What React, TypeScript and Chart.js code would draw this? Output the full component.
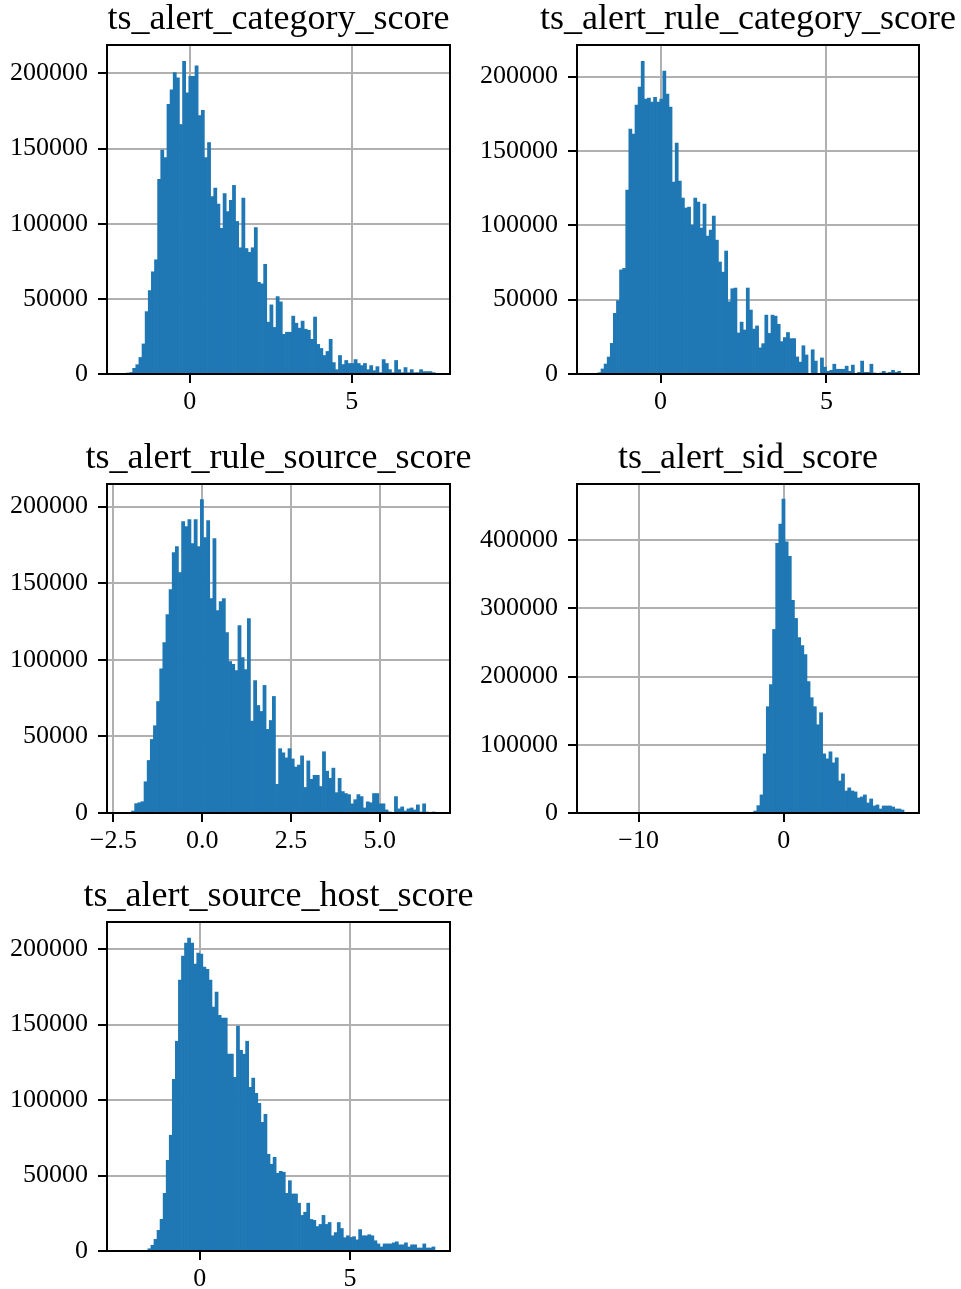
import React, { useEffect, useRef } from "react";
import { Chart, registerables } from "chart.js";

Chart.register(...registerables);

// ---------------- DATA ----------------
const titles = [
  "ts_alert_category_score",
  "ts_alert_rule_category_score",
  "ts_alert_rule_source_score",
  "ts_alert_sid_score",
  "ts_alert_source_host_score",
];

// panel 1: ts_alert_category_score
const categoryCounts = [
  500, 1000, 3800, 6200, 11000, 20000, 41500, 55500, 68000, 76000,
  129500, 149000, 144000, 179500, 189000, 200600, 197000, 166000, 208000, 187000,
  198000, 198000, 205000, 172000, 175500, 144000, 154000, 118000, 123700, 113000,
  97000, 120000, 108000, 115500, 125500, 101500, 84000, 117000, 83500, 81000,
  84000, 97500, 61000, 60000, 73000, 34500, 46000, 31000, 51500, 48000,
  26400, 27800, 27800, 38500, 33800, 30500, 35200, 29800, 29100, 23100,
  37900, 19700, 17000, 12300, 15000, 23100, 7600, 2900, 12300, 6300,
  9000, 7000, 7000, 9600, 7000, 5600, 7000, 2900, 5600, 2200,
  4900, 900, 9600, 7000, 2900, 900, 9000, 2900, 900, 4300,
  900, 2900, 900, 900, 2900, 1600, 1600, 1600, 900,
];
const categoryBinRange = [-1.96, 7.58];
const categoryAxisRange = [-2.56, 8.04];
const categoryXTicks = [0, 5];
const categoryXLabels = ["0", "5"];
const categoryYMax = 218900;

// panel 2: ts_alert_rule_category_score
const ruleCategoryCounts = [
  900, 3400, 6700, 11400, 20600, 40800, 49300, 70000, 71000, 123600,
  164600, 161300, 180800, 192900, 210300, 184800, 185500, 182800, 186100, 182800,
  184800, 203600, 188200, 179400, 129000, 155200, 129700, 118300, 111600, 112200,
  100100, 118300, 115600, 98100, 114200, 92700, 96800, 106200, 90000, 75300,
  68500, 82700, 48600, 57300, 57800, 27600, 34900, 29600, 57800, 43000,
  30200, 32300, 17600, 20400, 39600, 27300, 39600, 38900, 33400, 21800,
  24500, 27900, 23800, 23800, 11500, 8000, 19000, 12800, 0, 16300,
  8700, 0, 10800, 4600, 1800, 2500, 6600, 3200, 3200, 3200,
  5300, 1800, 6000, 0, 1100, 8700, 1100, 1100, 6600, 500,
  0, 500, 1800, 500, 1100, 2500, 1100, 1800,
];
const ruleCategoryBinRange = [-1.89, 7.24];
const ruleCategoryAxisRange = [-2.52, 7.79];
const ruleCategoryXTicks = [0, 5];
const ruleCategoryXLabels = ["0", "5"];
const ruleCategoryYMax = 221200;

// panel 3: ts_alert_rule_source_score
const ruleSourceCounts = [
  1300, 6100, 6700, 7400, 20400, 34300, 48000, 57000, 72800, 94100,
  111300, 129600, 145900, 170000, 173900, 157000, 190200, 187000, 191500, 175900,
  191500, 173900, 204600, 179800, 190900, 140000, 179100, 132200, 138000, 140000,
  117800, 98900, 97000, 93000, 122400, 101500, 93700, 127000, 60000, 86500,
  70200, 66300, 83300, 54600, 60400, 76100, 18700, 42000, 39300, 36000,
  42000, 35300, 30000, 31300, 37300, 16700, 34000, 22000, 24600, 24600,
  17300, 40000, 27300, 22600, 29300, 13300, 22600, 14000, 12700, 12000,
  6000, 8700, 12000, 10700, 3300, 7300, 6700, 12700, 12700, 6000,
  6000, 2000, 700, 0, 10700, 2700, 4000, 1300, 2700, 3300,
  2000, 5300, 700, 6000, 300, 0, 700,
];
const ruleSourceBinRange = [-1.99, 6.56];
const ruleSourceAxisRange = [-2.68, 6.98];
const ruleSourceXTicks = [-2.5, 0, 2.5, 5];
const ruleSourceXLabels = ["\u22122.5", "0.0", "2.5", "5.0"];
const ruleSourceYMax = 214800;

// panel 4: ts_alert_sid_score
const sidCounts = [
  2900, 10800, 26500, 86700, 155800, 188200, 269000, 395400, 423400, 460100,
  397400, 376300, 311600, 285200, 257200, 245500, 232300, 192600, 169000, 155800,
  129400, 147000, 86700, 79400, 89700, 73500, 80900, 47000, 57300, 32300,
  36800, 32300, 30900, 22000, 23500, 26500, 14700, 20600, 10300, 11800,
  5900, 10300, 10300, 10300, 8800, 5900, 5900, 4400,
];
const sidBinRange = [-2.07, 8.28];
const sidAxisRange = [-14.24, 9.31];
const sidXTicks = [-10, 0];
const sidXLabels = ["\u221210", "0"];
const sidYMax = 482200;

// panel 5: ts_alert_source_host_score
const sourceHostCounts = [
  1500, 3800, 7700, 13700, 21000, 38200, 60100, 76700, 113800, 139000,
  179500, 195400, 204000, 207300, 204000, 190100, 197400, 196700, 188100, 186700,
  179500, 161600, 171500, 156200, 154300, 154300, 130400, 130400, 115100, 149000,
  133000, 130400, 139000, 108500, 114500, 104500, 97900, 85300, 90600, 64100,
  57500, 62100, 51500, 52800, 52200, 38200, 46600, 37800, 37800, 31700,
  23600, 25700, 31700, 20900, 20300, 16200, 17600, 23600, 17600, 18900,
  10100, 12200, 18900, 14900, 8800, 10100, 9000, 9500, 7400, 14200,
  10100, 10100, 10800, 10100, 6800, 4700, 2700, 4700, 4700, 4700,
  5400, 6100, 4100, 4100, 5400, 2700, 4100, 4100, 2000, 2000,
  4700, 2000, 2000, 2700,
];
const sourceHostBinRange = [-1.73, 7.83];
const sourceHostAxisRange = [-3.09, 8.33];
const sourceHostXTicks = [0, 5];
const sourceHostXLabels = ["0", "5"];
const sourceHostYMax = 218000;

const yTicks200k = [0, 50000, 100000, 150000, 200000];
const yLabels200k = ["0", "50000", "100000", "150000", "200000"];
const yTicks400k = [0, 100000, 200000, 300000, 400000];
const yLabels400k = ["0", "100000", "200000", "300000", "400000"];

// ---------------- LAYOUT ----------------
const FONT = "'Liberation Serif', 'Times New Roman', serif";
const BAR_COLOR = "#1f77b4";
const GRID_COLOR = "#b0b0b0";
const Y_AXIS_W = 100;
const TITLE_H = 45;
const TITLE_BASELINE_GAP = 16.5;
const X_AXIS_H = 50;
const PLOT_H = 329;
const COLS = [
  { left: 107, width: 343, padR: 50 },
  { left: 577, width: 342, padR: 42 },
];
const ROW_TOPS = [45, 484, 922];

type PanelCfg = {
  title: string;
  counts: number[];
  binRange: number[];
  axisRange: number[];
  xTicks: number[];
  xLabels: string[];
  yMax: number;
  yTicks: number[];
  yLabels: string[];
  col: number;
  row: number;
};

const panels: PanelCfg[] = [
  { title: titles[0], counts: categoryCounts, binRange: categoryBinRange, axisRange: categoryAxisRange, xTicks: categoryXTicks, xLabels: categoryXLabels, yMax: categoryYMax, yTicks: yTicks200k, yLabels: yLabels200k, col: 0, row: 0 },
  { title: titles[1], counts: ruleCategoryCounts, binRange: ruleCategoryBinRange, axisRange: ruleCategoryAxisRange, xTicks: ruleCategoryXTicks, xLabels: ruleCategoryXLabels, yMax: ruleCategoryYMax, yTicks: yTicks200k, yLabels: yLabels200k, col: 1, row: 0 },
  { title: titles[2], counts: ruleSourceCounts, binRange: ruleSourceBinRange, axisRange: ruleSourceAxisRange, xTicks: ruleSourceXTicks, xLabels: ruleSourceXLabels, yMax: ruleSourceYMax, yTicks: yTicks200k, yLabels: yLabels200k, col: 0, row: 1 },
  { title: titles[3], counts: sidCounts, binRange: sidBinRange, axisRange: sidAxisRange, xTicks: sidXTicks, xLabels: sidXLabels, yMax: sidYMax, yTicks: yTicks400k, yLabels: yLabels400k, col: 1, row: 1 },
  { title: titles[4], counts: sourceHostCounts, binRange: sourceHostBinRange, axisRange: sourceHostAxisRange, xTicks: sourceHostXTicks, xLabels: sourceHostXLabels, yMax: sourceHostYMax, yTicks: yTicks200k, yLabels: yLabels200k, col: 0, row: 2 },
];

// frame around the plot area + title drawn without width squeezing
const framePlugin = {
  id: "frame",
  afterDraw(chart: any, _args: any, opts: any) {
    const { ctx, chartArea: a } = chart;
    ctx.save();
    ctx.strokeStyle = "#000";
    ctx.lineWidth = 2;
    ctx.strokeRect(a.left, a.top, a.right - a.left, a.bottom - a.top);
    ctx.fillStyle = "#000";
    ctx.font = `36px ${FONT}`;
    ctx.textAlign = "center";
    ctx.textBaseline = "alphabetic";
    ctx.fillText(opts.text, (a.left + a.right) / 2, a.top - TITLE_BASELINE_GAP);
    ctx.restore();
  },
};

function buildConfig(p: PanelCfg, padR: number): any {
  const [lo, hi] = p.binRange;
  const w = (hi - lo) / p.counts.length;
  const data = p.counts.map((c, i) => ({ x: lo + (i + 0.5) * w, y: c }));
  const tickFont = { family: FONT, size: 26 };
  const grid = {
    color: GRID_COLOR,
    lineWidth: 2,
    tickColor: "#000",
    tickWidth: 2,
    tickLength: 9,
    drawTicks: true,
    offset: false,
  };
  return {
    type: "bar",
    data: {
      datasets: [
        {
          data,
          backgroundColor: BAR_COLOR,
          borderWidth: 0,
          barPercentage: 1,
          categoryPercentage: 1,
        },
      ],
    },
    options: {
      responsive: false,
      animation: false,
      layout: { padding: { left: 0, right: padR, top: TITLE_H, bottom: 0 } },
      plugins: {
        legend: { display: false },
        tooltip: { enabled: false },
        title: { display: false },
        frame: { text: p.title },
      },
      scales: {
        x: {
          type: "linear",
          min: p.axisRange[0],
          max: p.axisRange[1],
          offset: false,
          z: 1,
          grid,
          border: { display: false },
          ticks: {
            autoSkip: false,
            maxRotation: 0,
            color: "#000",
            font: tickFont,
            padding: 4,
            callback: (_v: any, i: number) => p.xLabels[i],
          },
          afterBuildTicks: (s: any) => {
            s.ticks = p.xTicks.map((v) => ({ value: v }));
          },
          afterFit: (s: any) => {
            s.height = X_AXIS_H;
            s.paddingLeft = 0;
            s.paddingRight = 0;
          },
        },
        y: {
          type: "linear",
          min: 0,
          max: p.yMax,
          z: 1,
          grid,
          border: { display: false },
          ticks: {
            autoSkip: false,
            color: "#000",
            font: tickFont,
            padding: 10,
            callback: (_v: any, i: number) => p.yLabels[i],
          },
          afterBuildTicks: (s: any) => {
            s.ticks = p.yTicks.map((v) => ({ value: v }));
          },
          afterFit: (s: any) => {
            s.width = Y_AXIS_W;
            s.paddingTop = 0;
            s.paddingBottom = 0;
          },
        },
      },
    },
    plugins: [framePlugin],
  };
}

function Panel({ p }: { p: PanelCfg }) {
  const ref = useRef<HTMLCanvasElement>(null);
  const col = COLS[p.col];
  const left = col.left - Y_AXIS_W;
  const top = ROW_TOPS[p.row] - TITLE_H;
  const width = Y_AXIS_W + col.width + col.padR;
  const height = TITLE_H + PLOT_H + X_AXIS_H;
  useEffect(() => {
    const chart = new Chart(ref.current as HTMLCanvasElement, buildConfig(p, col.padR));
    return () => chart.destroy();
  }, []);
  return (
    <canvas
      ref={ref}
      width={width}
      height={height}
      style={{ position: "absolute", left, top, width, height }}
    />
  );
}

export default function App() {
  return (
    <div
      style={{
        position: "absolute",
        left: 0,
        top: 0,
        width: 961,
        height: 1289,
        background: "#fff",
        overflow: "hidden",
      }}
    >
      {panels.map((p, i) => (
        <Panel key={i} p={p} />
      ))}
    </div>
  );
}
